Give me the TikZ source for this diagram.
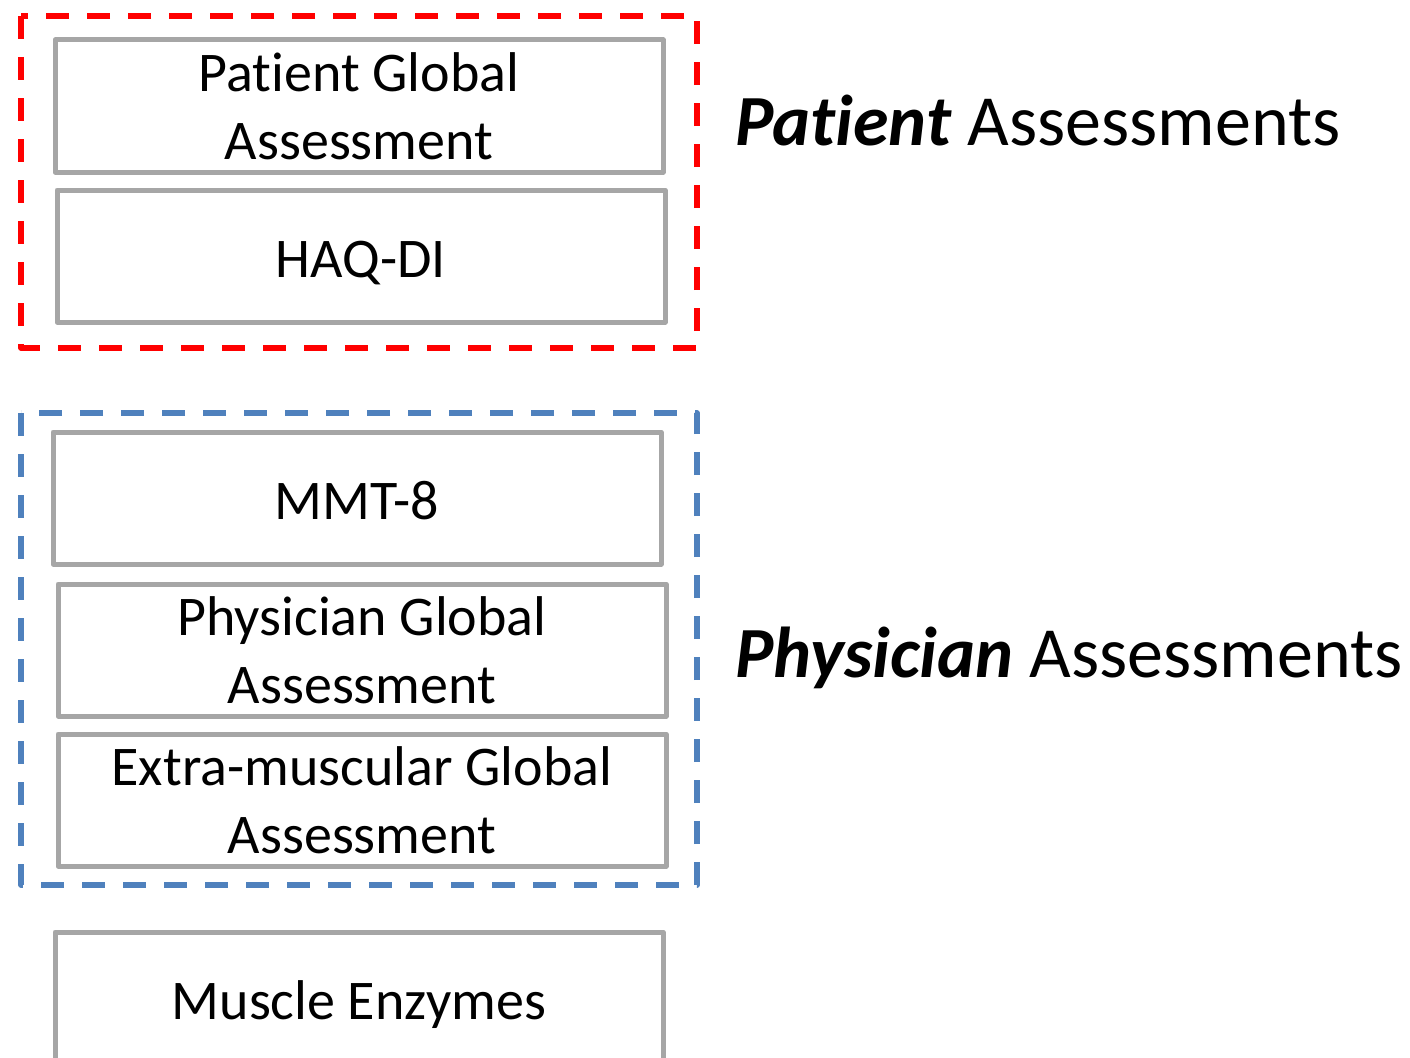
\documentclass[tikz,border=0pt]{standalone}
\usepackage{fontspec}
\setmainfont[Ligatures=NoCommon]{Carlito}
\definecolor{boxgray}{HTML}{A6A6A6}
\definecolor{grpred}{HTML}{FF0000}
\definecolor{grpblue}{HTML}{4F81BD}
\tikzset{
  x=1pt, y=-1pt,
  measure/.style={draw=boxgray, line width=5pt, line join=round, fill=white,
    minimum width=608pt, minimum height=132pt, inner sep=0pt, outer sep=0pt,
    align=center, anchor=north west, font=\fontsize{56}{68}\selectfont},
  oneline/.style={text height=42pt, text depth=0pt},
  group/.style={line width=5.5pt, line join=round, dash pattern=on 23pt off 18pt},
  heading/.style={anchor=base west, inner sep=0pt, font=\fontsize{72}{80}\selectfont}
}
\begin{document}
\begin{tikzpicture}
\useasboundingbox (0,0) rectangle (1410,1057);
\begin{scope}
\clip (0,0) rectangle (1410,1057);
% patient-reported group
\draw[group, draw=grpred] (21,16) rectangle (697,348);
\node[measure] (pga) at (55,40) {Patient Global\\Assessment};
\node[measure, oneline] (haq) at (57,190) {HAQ-DI};
% physician-reported group
\draw[group, draw=grpblue] (21,413) rectangle (697,885);
\node[measure, oneline] (mmt) at (53,432) {MMT-8};
\node[measure] (phga) at (58,584) {Physician Global\\Assessment};
\node[measure] (ega) at (58,734) {Extra-muscular Global\\Assessment};
% laboratory measure
\node[measure, oneline] (enz) at (55,932) {Muscle Enzymes};
\end{scope}
\node[heading] (pat) at (735,145) {\textbf{\textit{Patient}} Assessments};
\node[heading] (phy) at (735,677) {\textbf{\textit{Physician}} Assessments};
\end{tikzpicture}
\end{document}
